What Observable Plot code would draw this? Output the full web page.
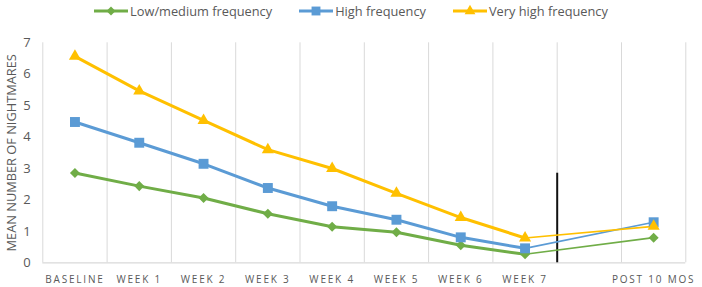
<!DOCTYPE html>
<html>
<head>
<meta charset="utf-8">
<script src="https://cdn.jsdelivr.net/npm/d3@7"></script>
<script src="https://cdn.jsdelivr.net/npm/@observablehq/plot@0.6"></script>
<style>
  html, body { margin: 0; padding: 0; background: #fff; }
  #legend { height: 22px; display: flex; justify-content: center; align-items: center; gap: 27px;
            font-family: "Open Sans", sans-serif; font-size: 12.8px; color: #595959; padding-left: 0; }
  #legend .item { display: flex; align-items: center; gap: 2px; }
  #chart [aria-label="x-axis tick label"] text { letter-spacing: 1.8px; }
</style>
</head>
<body>
<div id="legend"></div>
<div id="chart"></div>
<script>
const categories = ["BASELINE", "WEEK 1", "WEEK 2", "WEEK 3", "WEEK 4", "WEEK 5", "WEEK 6", "WEEK 7", "", "POST 10 MOS"];
const lowMedium = [2.86, 2.44, 2.06, 1.56, 1.15, 0.97, 0.56, 0.27, null, 0.80];
const high      = [4.48, 3.82, 3.15, 2.38, 1.80, 1.37, 0.81, 0.46, null, 1.29];
const veryHigh  = [6.57, 5.47, 4.53, 3.60, 3.00, 2.21, 1.44, 0.79, null, 1.16];
const seriesNames = ["Low/medium frequency", "High frequency", "Very high frequency"];
const seriesColors = ["#70AD47", "#5B9BD5", "#FFC000"];
const yTicks = [0, 1, 2, 3, 4, 5, 6, 7];
const separatorIndex = 7.5;
const separatorTop = 2.85;

const diamond = {
  draw(context, size) {
    const r = Math.sqrt(size / 2);
    context.moveTo(0, -r); context.lineTo(r, 0); context.lineTo(0, r); context.lineTo(-r, 0); context.closePath();
  }
};
const symbols = [diamond, "square", "triangle"];
const radii = [4.0, 5.6, 4.5];

const allValues = [lowMedium, high, veryHigh];
const rows = [];
allValues.forEach((vals, s) => vals.forEach((v, i) => {
  if (v != null) rows.push({series: seriesNames[s], s, i, v});
}));
const mainRows = rows.filter(d => d.i <= 7);
const followRows = rows.filter(d => d.i >= 7);
const gridPositions = d3.range(-0.5, categories.length, 1);
const tickIdx = categories.map((c, i) => i).filter(i => categories[i] !== "");

const marks = [
  Plot.ruleX(gridPositions, {x: d => d, y1: 0, y2: 7, stroke: "#d9d9d9", strokeWidth: 1}),
  Plot.ruleY([0], {stroke: "#d9d9d9", strokeWidth: 1.3}),
  Plot.ruleX([separatorIndex], {x: d => d, y1: 0, y2: separatorTop, stroke: "#111", strokeWidth: 2}),
];
seriesNames.forEach((name, s) => {
  marks.push(Plot.line(mainRows.filter(d => d.s === s), {x: "i", y: "v", stroke: seriesColors[s], strokeWidth: 3}));
  marks.push(Plot.line(followRows.filter(d => d.s === s), {x: "i", y: "v", stroke: seriesColors[s], strokeWidth: 1.6}));
});
seriesNames.forEach((name, s) => {
  marks.push(Plot.dot(rows.filter(d => d.s === s), {x: "i", y: "v", symbol: () => symbols[s], r: radii[s], fill: seriesColors[s], stroke: "none"}));
});
marks.push(Plot.axisY(yTicks, {tickSize: 0, tickPadding: 12, fontSize: 13, label: null, color: "#595959"}));
marks.push(Plot.axisX(tickIdx, {tickSize: 0, tickPadding: 13, fontSize: 10, label: null, color: "#595959", tickFormat: i => categories[i]}));
marks.push(Plot.text(["MEAN NUMBER OF NIGHTMARES"], {frameAnchor: "left", rotate: -90, dx: -31, textAnchor: "middle", fontSize: 12.8, fill: "#595959", text: d => d}));

const chart = Plot.plot({
  width: 702,
  height: 265,
  marginLeft: 42.3,
  marginRight: 16.7,
  marginTop: 20.3,
  marginBottom: 24.7,
  style: {fontFamily: "'Open Sans', sans-serif", background: "#fff", overflow: "visible"},
  x: {type: "linear", domain: [-0.5, categories.length - 0.5]},
  y: {domain: [0, 7]},
  symbol: {type: "identity"},
  marks
});
document.getElementById("chart").appendChild(chart);

// legend
const legend = document.getElementById("legend");
seriesNames.forEach((name, s) => {
  const item = document.createElement("div");
  item.className = "item";
  const sw = d3.create("svg").attr("width", 34).attr("height", 14);
  sw.append("line").attr("x1", 0).attr("x2", 34).attr("y1", 7).attr("y2", 7).attr("stroke", seriesColors[s]).attr("stroke-width", 3);
  const sym = typeof symbols[s] === "string" ? (symbols[s] === "square" ? d3.symbolSquare : d3.symbolTriangle) : symbols[s];
  sw.append("path").attr("transform", "translate(17,7)").attr("fill", seriesColors[s])
    .attr("d", d3.symbol(sym, radii[s] * radii[s] * Math.PI * 0.8)());
  item.appendChild(sw.node());
  const t = document.createElement("span");
  t.textContent = name;
  item.appendChild(t);
  legend.appendChild(item);
});
</script>
</body>
</html>
